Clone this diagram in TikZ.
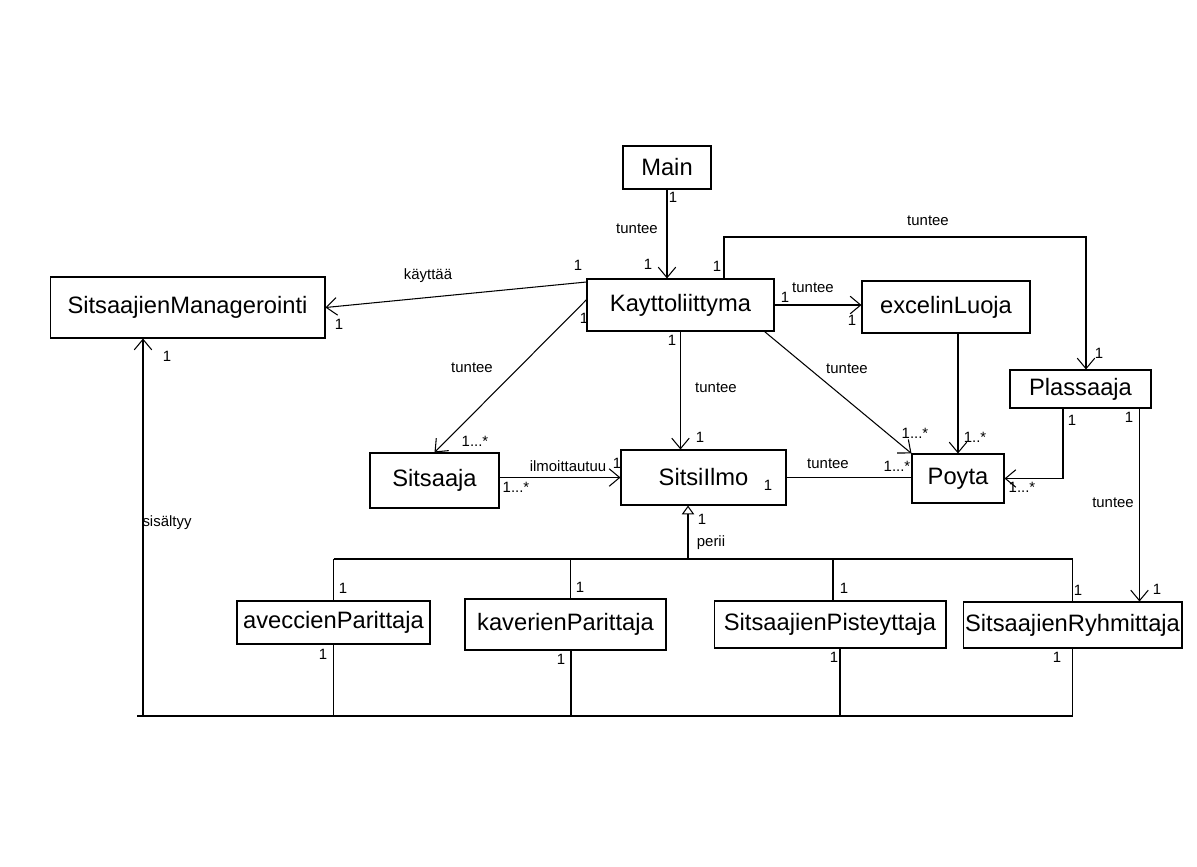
\documentclass[tikz,border=0pt]{standalone}
\usepackage{fontspec}
\setmainfont{Liberation Sans}
\usetikzlibrary{arrows.meta,calc}
\newcommand{\mlt}{1...*}
\newcommand{\mlb}{1..*}

\begin{document}
\begin{tikzpicture}[x=0.02cm, y=-0.02cm, line width=0.6pt,
    cls/.style={draw, inner sep=1pt, font=\fontsize{13.5}{16}\selectfont},
    lbl/.style={inner sep=0pt, font=\fontsize{8.5}{10}\selectfont},
    assoc/.style={-{Straight Barb[length=6pt,width=10pt]}},
    inherit/.style={-{Triangle[open,length=5pt,width=7pt]}}]
    \path[fill=white, use as bounding box] (0,0) rectangle (1197,866);

    \node[cls, minimum width=1.76cm, minimum height=0.86cm] (main) at (667,167.5) {Main};
    \node[cls, minimum width=3.74cm, minimum height=1.04cm] (kay) at (680.5,305) {Kayttoliittyma};
    \node[cls, minimum width=3.36cm, minimum height=1.04cm] (excel) at (946,307) {excelinLuoja};
    \node[cls, minimum width=5.5cm, minimum height=1.22cm] (sm) at (187.5,307.5) {SitsaajienManagerointi};
    \node[cls, minimum width=2.82cm, minimum height=0.76cm] (plass) at (1080.5,389) {Plassaaja};
    \node[cls, minimum width=2.58cm, minimum height=1.1cm] (sitsaaja) at (434.5,480.5) {Sitsaaja};
    \node[cls, minimum width=3.3cm, minimum height=1.1cm] (ilmo) at (703.5,477.5) {SitsiIlmo};
    \node[cls, minimum width=1.84cm, minimum height=0.98cm] (poyta) at (958,478.5) {Poyta};
    \node[cls, minimum width=3.86cm, minimum height=0.86cm] (avec) at (333.5,622.5) {aveccienParittaja};
    \node[cls, minimum width=4.02cm, minimum height=1.02cm] (kaver) at (565.5,624.5) {kaverienParittaja};
    \node[cls, minimum width=4.64cm, minimum height=0.94cm] (piste) at (830,624.5) {SitsaajienPisteyttaja};
    \node[cls, minimum width=4.38cm, minimum height=0.92cm] (ryhm) at (1072.5,625) {SitsaajienRyhmittaja};

    \coordinate (bendP) at (1086,237);
    \coordinate (bus) at (688,559);
    \coordinate (base) at (143,716);

    \draw[assoc] (main.south) -- (main.south |- kay.north);
    \draw[assoc] ([yshift=-2pt]kay.north west) -- (sm.east);
    \draw[assoc] ([xshift=0.87cm]kay.north) |- (bendP) -- (plass.north -| bendP);
    \draw[assoc] (kay.east) -- (kay.east -| excel.west);
    \draw[assoc] ([yshift=3pt]kay.west) -- (sitsaaja.north);
    \draw[assoc] (kay.south) -- (kay.south |- ilmo.north);
    \draw[assoc] ([xshift=-0.2cm]kay.south east) -- (poyta.north west);
    \draw[assoc] (poyta.north |- excel.south) -- (poyta.north);
    \draw[assoc] ([xshift=-0.35cm]plass.south) |- (poyta.east);
    \draw[assoc] ([xshift=-0.24cm]plass.south east) coordinate (pr) -- (pr |- ryhm.north);
    \draw[assoc] (sitsaaja.east |- ilmo.west) -- (ilmo.west);
    \draw (ilmo.east) -- (ilmo.east -| poyta.west);

    \draw[inherit] (bus) -- (bus |- ilmo.south);
    \draw (avec.north |- bus) -- (ryhm.north |- bus);
    \foreach \n/\d in {avec/0, kaver/0.1, piste/0.06, ryhm/0}
        \draw ([xshift=\d cm]\n.north) -- ([xshift=\d cm]\n.north |- bus);

    \draw[assoc] (base) -- (base |- sm.south);
    \draw ([xshift=-0.12cm]base) -- (ryhm.south |- base);
    \foreach \n/\d in {avec/0, kaver/0.11, piste/0.2, ryhm/0}
        \draw ([xshift=\d cm]\n.south) -- ([xshift=\d cm]\n.south |- base);

    \foreach \x/\y/\t in {673/197/1, 637/229/tuntee, 648/264/1,
        428/276/käyttää, 578/265/1, 339/324/1,
        717/266/1, 928/221/tuntee, 1099/353/1,
        785/297/1, 813/288/tuntee, 852/320/1,
        584/318/1, 472/368/tuntee, 475/441/\mlt,
        672/340/1, 716/388/tuntee, 700/437/1,
        847/369/tuntee, 915/433/\mlt, 975/437/\mlb,
        1072/420/1, 1022/487/\mlt,
        1129/417/1, 1113/503/tuntee, 1157/589/1,
        568/466/ilmoittautuu, 617/463/1, 516/487/\mlt,
        828/464/tuntee, 768/485/1, 897/466/\mlt,
        702/519/1, 711/543/perii, 343/588/1, 580/587/1, 844/588/1, 1078/590/1,
        167/523/sisältyy, 167/356/1, 323/654/1, 561/659/1, 834/657/1, 1057/657/1}
        \node[lbl] at (\x,\y) {\t};
\end{tikzpicture}
\end{document}
